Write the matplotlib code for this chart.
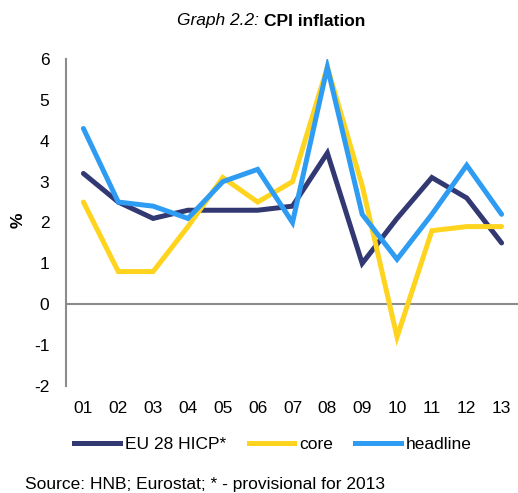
import matplotlib
matplotlib.use('Agg')
import matplotlib.pyplot as plt
from matplotlib.lines import Line2D

plt.rcParams['font.family'] = ['Liberation Sans', 'DejaVu Sans']
plt.rcParams['axes.unicode_minus'] = False

years = ['01', '02', '03', '04', '05', '06', '07', '08', '09', '10', '11', '12', '13']
eu_hicp = [3.2, 2.5, 2.1, 2.3, 2.3, 2.3, 2.4, 3.7, 1.0, 2.1, 3.1, 2.6, 1.5]
core = [2.5, 0.8, 0.8, 1.9, 3.1, 2.5, 3.0, 5.8, 2.9, -0.8, 1.8, 1.9, 1.9]
headline = [4.3, 2.5, 2.4, 2.1, 3.0, 3.3, 2.0, 5.8, 2.2, 1.1, 2.2, 3.4, 2.2]

NAVY = '#323872'
YELLOW = '#FFD41F'
BLUE = '#2E9CF2'
GREY = '#8C8C8C'
FS = 12.5

fig = plt.figure(figsize=(5.18, 4.93), dpi=100)
ax = fig.add_axes([66 / 518, 1 - 386 / 493, 453 / 518, (386 - 59) / 493])

x = list(range(len(years)))
lw = 3.6
ax.plot(x, eu_hicp, color=NAVY, lw=lw, solid_capstyle='round', solid_joinstyle='miter')
ax.plot(x, core, color=YELLOW, lw=lw, solid_capstyle='round', solid_joinstyle='miter')
ax.plot(x, headline, color=BLUE, lw=lw, solid_capstyle='round', solid_joinstyle='miter')

ax.axhline(0, color=GREY, lw=1.5, zorder=0)
ax.set_xlim(-0.5, len(years) - 0.5)
ax.set_ylim(-2, 6)
ax.set_yticks(range(-2, 7))
ax.set_xticks(x)
ax.set_xticklabels(years)
ax.tick_params(length=0, labelsize=FS, colors='black')
ax.tick_params(axis='x', pad=11)
ax.tick_params(axis='y', pad=12)
for s in ['top', 'right', 'bottom']:
    ax.spines[s].set_visible(False)
ax.spines['left'].set_color(GREY)
ax.spines['left'].set_linewidth(1.5)

fig.text(18 / 518, 1 - 220 / 493, '%', rotation=90, fontsize=FS, fontweight='bold',
         ha='center', va='center')

# title: italic prefix + bold name
fig.text(264 / 518, 1 - 21 / 493, 'Graph 2.2: ', fontsize=FS, style='italic',
         ha='right', va='center')
fig.text(264 / 518, 1 - 21 / 493, 'CPI inflation', fontsize=FS, fontweight='bold',
         ha='left', va='center')

handles = [Line2D([], [], color=c, lw=lw) for c in (NAVY, YELLOW, BLUE)]
fig.legend(handles, ['EU 28 HICP*', 'core', 'headline'], loc='center',
           bbox_to_anchor=(273 / 518, 1 - 444 / 493), ncol=3, frameon=False,
           fontsize=FS, handlelength=2.6, handletextpad=0.3, columnspacing=1.3)

fig.text(25 / 518, 1 - 484 / 493, 'Source: HNB; Eurostat; * - provisional for 2013',
         fontsize=FS, ha='left', va='center')

fig.savefig('out.png', dpi=100)
